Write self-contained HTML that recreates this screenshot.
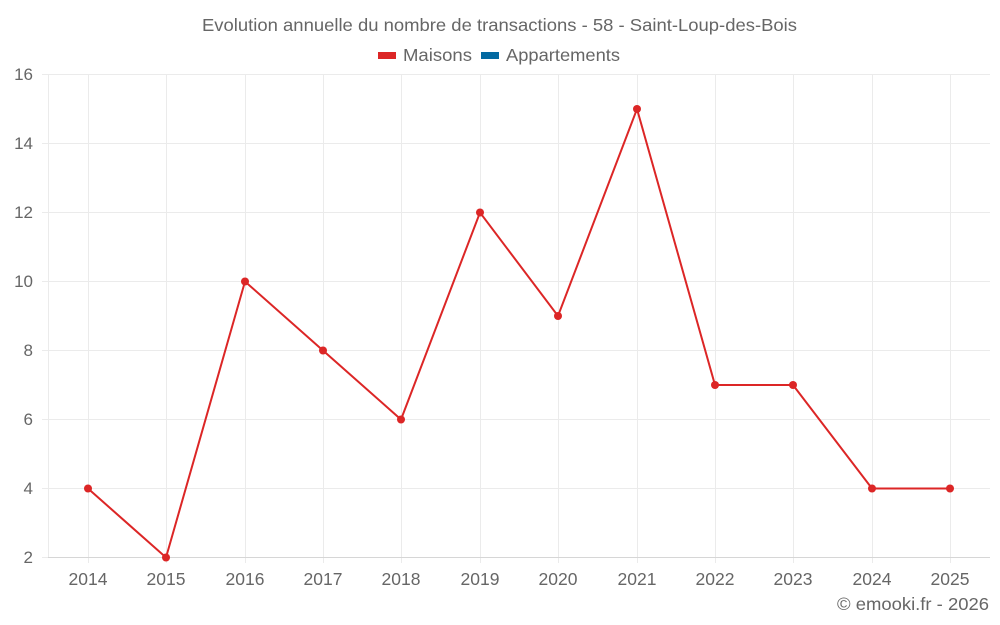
<!DOCTYPE html>
<html><head><meta charset="utf-8"><style>
html,body{margin:0;padding:0;background:#fff;}
svg{display:block;font-family:"Liberation Sans",sans-serif;}
</style></head><body>
<svg width="1000" height="625" viewBox="0 0 1000 625" xmlns="http://www.w3.org/2000/svg">
<text x="202" y="31" font-size="17.5" fill="#666" textLength="595" lengthAdjust="spacingAndGlyphs">Evolution annuelle du nombre de transactions - 58 - Saint-Loup-des-Bois</text>
<rect x="378" y="52" width="18" height="7" fill="#dc2626"/>
<text x="403" y="61" font-size="17.5" fill="#666" textLength="69" lengthAdjust="spacingAndGlyphs">Maisons</text>
<rect x="481" y="52" width="18" height="7" fill="#0369a1"/>
<text x="506" y="61" font-size="17.5" fill="#666" textLength="114" lengthAdjust="spacingAndGlyphs">Appartements</text>
<g stroke="#ebebeb" stroke-width="1">
<line x1="48" y1="74.5" x2="990" y2="74.5"/>
<line x1="48" y1="143.5" x2="990" y2="143.5"/>
<line x1="48" y1="212.5" x2="990" y2="212.5"/>
<line x1="48" y1="281.5" x2="990" y2="281.5"/>
<line x1="48" y1="350.5" x2="990" y2="350.5"/>
<line x1="48" y1="419.5" x2="990" y2="419.5"/>
<line x1="48" y1="488.5" x2="990" y2="488.5"/>
<line x1="42" y1="74.5" x2="48" y2="74.5"/>
<line x1="42" y1="143.5" x2="48" y2="143.5"/>
<line x1="42" y1="212.5" x2="48" y2="212.5"/>
<line x1="42" y1="281.5" x2="48" y2="281.5"/>
<line x1="42" y1="350.5" x2="48" y2="350.5"/>
<line x1="42" y1="419.5" x2="48" y2="419.5"/>
<line x1="42" y1="488.5" x2="48" y2="488.5"/>
<line x1="42" y1="557.5" x2="48" y2="557.5"/>
<line x1="48.5" y1="74" x2="48.5" y2="557"/>
<line x1="88.5" y1="74" x2="88.5" y2="563"/>
<line x1="166.5" y1="74" x2="166.5" y2="563"/>
<line x1="245.5" y1="74" x2="245.5" y2="563"/>
<line x1="323.5" y1="74" x2="323.5" y2="563"/>
<line x1="401.5" y1="74" x2="401.5" y2="563"/>
<line x1="480.5" y1="74" x2="480.5" y2="563"/>
<line x1="558.5" y1="74" x2="558.5" y2="563"/>
<line x1="637.5" y1="74" x2="637.5" y2="563"/>
<line x1="715.5" y1="74" x2="715.5" y2="563"/>
<line x1="793.5" y1="74" x2="793.5" y2="563"/>
<line x1="872.5" y1="74" x2="872.5" y2="563"/>
<line x1="950.5" y1="74" x2="950.5" y2="563"/>
</g>
<line x1="48" y1="557.5" x2="990" y2="557.5" stroke="#d6d6d6"/>
<g font-size="17" fill="#666" text-anchor="end">
<text x="33" y="80">16</text><text x="33" y="149">14</text><text x="33" y="218">12</text>
<text x="33" y="287">10</text><text x="33" y="356">8</text><text x="33" y="425">6</text>
<text x="33" y="494">4</text><text x="33" y="563">2</text>
</g>
<g font-size="17.5" fill="#666" text-anchor="middle">
<text x="88" y="585">2014</text><text x="166" y="585">2015</text><text x="245" y="585">2016</text>
<text x="323" y="585">2017</text><text x="401" y="585">2018</text><text x="480" y="585">2019</text>
<text x="558" y="585">2020</text><text x="637" y="585">2021</text><text x="715" y="585">2022</text>
<text x="793" y="585">2023</text><text x="872" y="585">2024</text><text x="950" y="585">2025</text>
</g>
<polyline fill="none" stroke="#dc2626" stroke-width="2" points="88,488.5 166,557.5 245,281.5 323,350.5 401,419.5 480,212.5 558,316 637,109 715,385 793,385 872,488.5 950,488.5"/>
<g fill="#dc2626">
<circle cx="88" cy="488.5" r="4"/><circle cx="166" cy="557.5" r="4"/><circle cx="245" cy="281.5" r="4"/>
<circle cx="323" cy="350.5" r="4"/><circle cx="401" cy="419.5" r="4"/><circle cx="480" cy="212.5" r="4"/>
<circle cx="558" cy="316" r="4"/><circle cx="637" cy="109" r="4"/><circle cx="715" cy="385" r="4"/>
<circle cx="793" cy="385" r="4"/><circle cx="872" cy="488.5" r="4"/><circle cx="950" cy="488.5" r="4"/>
</g>
<text x="837" y="610" font-size="17.5" fill="#666" textLength="152" lengthAdjust="spacingAndGlyphs">© emooki.fr - 2026</text>
</svg>
</body></html>
